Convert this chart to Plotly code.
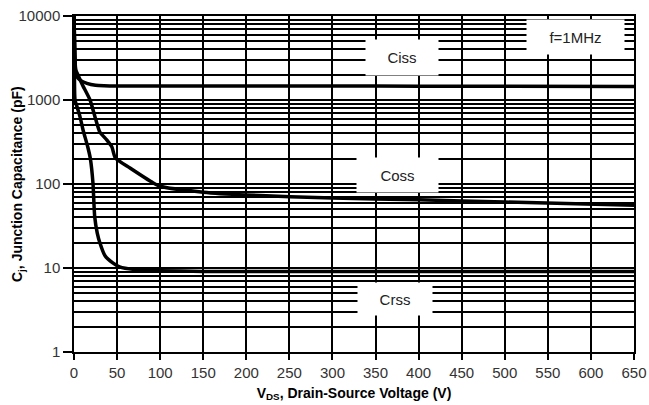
import plotly.graph_objects as go

# Junction capacitance vs drain-source voltage (f = 1 MHz)
ciss_v = [0, 1, 2, 4, 8, 15, 25, 35, 50, 100, 200, 300, 400, 500, 650]
ciss_pf = [10000, 3500, 2100, 1850, 1700, 1580, 1500, 1480, 1470, 1470, 1470, 1470, 1460, 1460, 1450]

coss_v = [0, 1, 2, 4.6, 10, 18.6, 25, 30, 38, 44, 48, 65, 92, 100, 150, 200, 300, 400, 500, 650]
coss_pf = [10000, 3500, 2300, 1985, 1500, 1000, 600, 416, 335, 276, 204, 155, 103, 94, 80, 74, 68, 65, 61, 56]

crss_v = [0, 0.5, 1.2, 4, 7, 10.5, 16, 19, 22, 24, 27, 30, 36, 45, 53, 70, 100, 150, 200, 300, 400, 500, 650]
crss_pf = [10000, 3000, 1000, 800, 630, 440, 276, 200, 103, 41, 26, 20, 14, 11.5, 10.3, 9.6, 9.3, 9.1, 9.1, 9.1, 9.1, 9.1, 9.1]

x_ticks = list(range(0, 651, 50))
y_major = [1, 10, 100, 1000, 10000]
y_minor = [m * d for d in (1, 10, 100, 1000) for m in range(2, 10)]

FONT = "Liberation Sans, Arial, sans-serif"

fig = go.Figure()
for xs, ys, name in [(ciss_v, ciss_pf, "Ciss"), (coss_v, coss_pf, "Coss"), (crss_v, crss_pf, "Crss")]:
    fig.add_trace(go.Scatter(
        x=xs, y=ys, name=name, mode="lines",
        line=dict(color="black", width=3.5, shape="spline", smoothing=0.6),
        showlegend=False,
    ))

# label boxes (white background hides the grid behind them)
labels = [
    ("Ciss", 0.586, 0.8765, 72, 35),
    ("Coss", 0.5777, 0.5268, 81, 34),
    ("Crss", 0.573, 0.1577, 74, 32),
    ("f=1MHz", 0.8955, 0.9375, 97, 34),
]
for text, px, py, w, h in labels:
    fig.add_annotation(
        x=px, y=py, xref="paper", yref="paper", text=text, showarrow=False,
        bgcolor="white", width=w, height=h, borderpad=0,
        font=dict(family=FONT, size=15, color="#222"),
        xanchor="center", yanchor="middle",
    )

# y-axis title
fig.add_annotation(
    x=-0.1, y=0.5, xref="paper", yref="paper", textangle=-90, showarrow=False,
    text="<b>C<sub>j</sub>, Junction Capacitance (pF)</b>",
    font=dict(family=FONT, size=14, color="black"),
    xanchor="center", yanchor="middle",
)

fig.update_layout(
    width=649, height=405,
    margin=dict(l=74, r=15, t=16, b=53, autoexpand=False),
    paper_bgcolor="white", plot_bgcolor="white",
    font=dict(family=FONT, color="#222"),
    xaxis=dict(
        range=[0, 650], tickmode="array", tickvals=x_ticks,
        ticks="outside", ticklen=6, tickwidth=1.5, tickcolor="black",
        showgrid=True, gridcolor="black", gridwidth=1.5,
        showline=True, linecolor="black", linewidth=1.5, zeroline=False, automargin=False,
        mirror=True,
        tickfont=dict(size=15, color="#333"),
        title=dict(text="<b>V<sub>DS</sub>, Drain-Source Voltage (V)</b>",
                   font=dict(size=14, color="black"), standoff=8),
    ),
    yaxis=dict(
        type="log", range=[0, 4], tickmode="array", tickvals=y_major,
        ticktext=[str(v) for v in y_major],
        ticks="outside", ticklen=9, tickwidth=1.5, tickcolor="black",
        showgrid=True, gridcolor="black", gridwidth=1.5,
        showline=True, linecolor="black", linewidth=1.5, zeroline=False, automargin=False,
        mirror=True,
        tickfont=dict(size=15, color="#333"),
        minor=dict(tickmode="array", tickvals=y_minor, showgrid=True,
                   gridcolor="black", gridwidth=1.5, ticks=""),
    ),
)

fig.write_html("out.html")
